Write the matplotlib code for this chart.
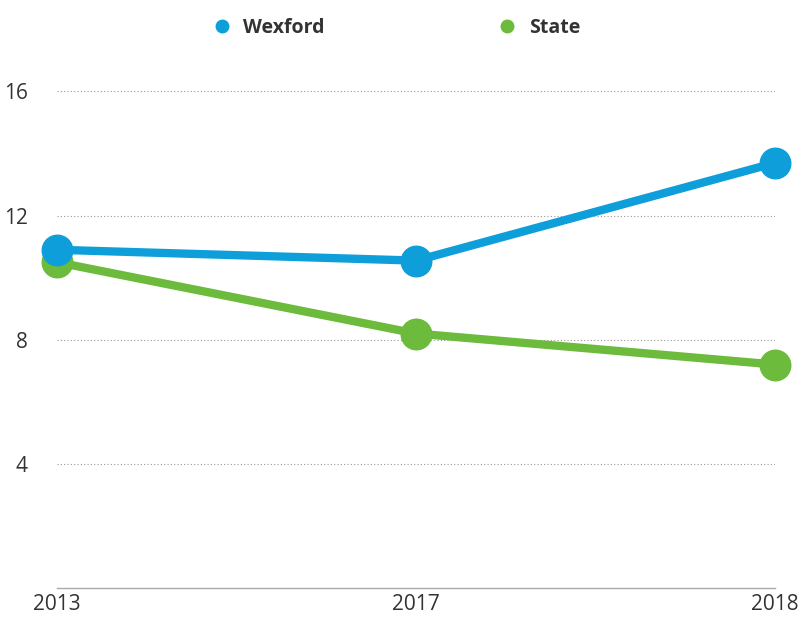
import numpy as np
import matplotlib.pyplot as plt
from matplotlib.lines import Line2D

years = ['2013', '2017', '2018']
wexford = [10.9, 10.55, 13.7]
state = [10.5, 8.2, 7.2]
yticks = [4, 8, 12, 16]

blue = '#0e9fda'
green = '#6cbb3c'

plt.rcParams['font.family'] = ['Open Sans', 'DejaVu Sans']

f = plt.figure(figsize=(8, 6.17), dpi=100)
p = f.add_axes([0.071, 0.047, 0.898, 0.855])

x = np.arange(len(years))
p.plot(x, wexford, color=blue, lw=6, marker='o', ms=22, clip_on=False, zorder=4)
p.plot(x, state, color=green, lw=6, marker='o', ms=22, clip_on=False, zorder=3)

p.set_xlim(0, len(years) - 1)
p.set_ylim(0, 17)
p.set_yticks(yticks)
p.set_yticklabels([str(t) for t in yticks])
p.set_xticks(x)
p.set_xticklabels(years)
p.tick_params(length=0, labelsize=15, colors='#333333')
p.tick_params(axis='y', pad=21)
p.tick_params(axis='x', pad=4)
p.grid(axis='y', color='#999999', linestyle=(0, (1, 2)), lw=0.8)
for s in ['top', 'right', 'left']:
    p.spines[s].set_visible(False)
p.spines['bottom'].set_color('#aaaaaa')
p.spines['bottom'].set_linewidth(1)

handles = [Line2D([], [], color=blue, marker='o', ls='', ms=9),
           Line2D([], [], color=green, marker='o', ls='', ms=9)]
f.legend(handles, ['Wexford', 'State'], loc='center', bbox_to_anchor=(0.489, 0.955),
         ncol=2, frameon=False, columnspacing=8.4, handletextpad=0.1,
         prop={'weight': 'bold', 'size': 14}, labelcolor='#333333')

f.savefig('out.png', dpi=100)
